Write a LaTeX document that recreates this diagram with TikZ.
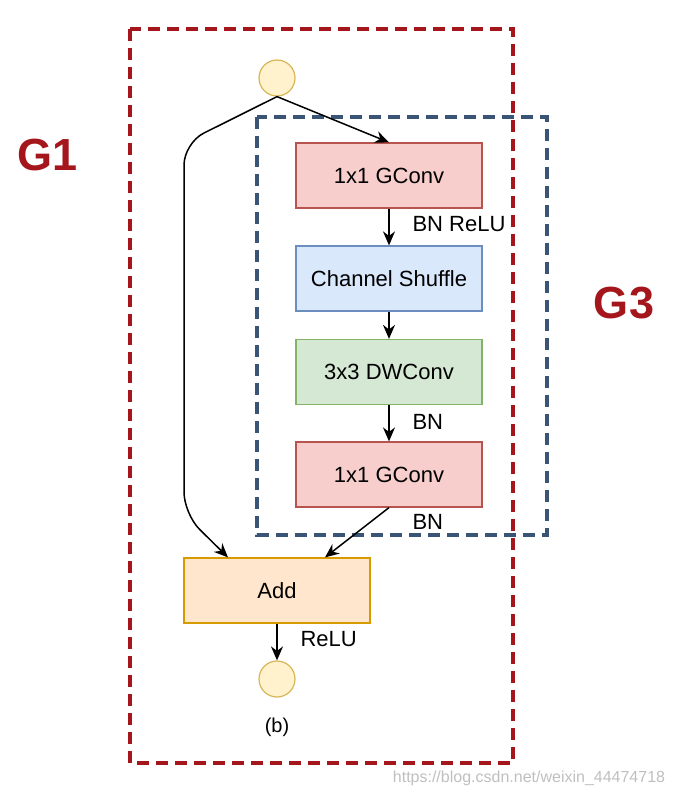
\documentclass[tikz,border=0pt]{standalone}
\usepackage{fontspec}
\setmainfont{Liberation Sans}
\usepackage{tikz}
\usetikzlibrary{arrows.meta}
\usetikzlibrary{positioning}

\definecolor{groupred}{RGB}{165,22,28}
\definecolor{groupblue}{RGB}{58,84,118}
\definecolor{convfill}{RGB}{248,206,204}
\definecolor{convdraw}{RGB}{184,84,80}
\definecolor{shufill}{RGB}{218,232,252}
\definecolor{shudraw}{RGB}{108,142,191}
\definecolor{dwfill}{RGB}{213,232,212}
\definecolor{dwdraw}{RGB}{130,179,102}
\definecolor{addfill}{RGB}{255,230,204}
\definecolor{adddraw}{RGB}{215,155,0}
\definecolor{iofill}{RGB}{255,242,204}
\definecolor{iodraw}{RGB}{214,182,86}

\begin{document}
\begin{tikzpicture}[x=1pt, y=-1pt,
	box/.style={rectangle, draw, line width=1.2pt, minimum width=186pt, minimum height=65pt,
	            font=\fontsize{22}{26}\selectfont},
	io/.style={circle, draw=iodraw, fill=iofill, line width=1.2pt, minimum size=36pt, inner sep=0pt},
	lbl/.style={anchor=west, font=\fontsize{22}{26}\selectfont},
	group/.style={line width=4pt, dash pattern=on 12pt off 7pt},
	glabel/.style={text=groupred, font=\fontsize{45}{54}\selectfont\bfseries}]
	\useasboundingbox (0,0) rectangle (672,797);

	% groups
	\draw[group, groupred] (130,29) rectangle (513,763);
	\draw[group, groupblue] (257,117) rectangle (547,535);
	\node[glabel] (g1) at (48,155) {G1};
	\node[glabel] (g3) at (624,303) {G3};

	\begin{scope}[every node/.style={box}]
		\node[fill=convfill, draw=convdraw] (gconv1) at (389,175.5) {1x1 GConv};
		\node[fill=shufill, draw=shudraw] (shuffle) at (389,278.5) {Channel Shuffle};
		\node[fill=dwfill, draw=dwdraw] (dwconv) at (389,372) {3x3 DWConv};
		\node[fill=convfill, draw=convdraw] (gconv2) at (389,474.5) {1x1 GConv};
		\node[fill=addfill, draw=adddraw] (add) at (277,590.5) {Add};
	\end{scope}
	\node[io] (in) at (277,78) {};
	\node[io] (out) at (277,679) {};
	\node[font=\fontsize{20}{24}\selectfont] (cap) at (277,727) {(b)};

	\begin{scope}[>={Stealth[length=14pt, width=12pt]}, line width=1.5pt]
		\draw[->] (in.south) -- (gconv1.north);
		\draw[->, rounded corners=22pt] (in.south) -- (184,143) -- (184,514) -- (add.north west -| 228,0);
		\draw[->] (gconv1) -- (shuffle);
		\draw[->] (shuffle) -- (dwconv);
		\draw[->] (dwconv) -- (gconv2);
		\draw[->] (gconv2.south) -- (add.north -| 325,0);
		\draw[->] (add) -- (out);
	\end{scope}

	\node[lbl] (l1) at (409,224) {BN ReLU};
	\node[lbl] (l2) at (409,422) {BN};
	\node[lbl] (l3) at (409,522) {BN};
	\node[lbl] (l4) at (297,639) {ReLU};
	\node[text=black!25, font=\fontsize{16}{19}\selectfont] (mark) at (529,778) {https://blog.csdn.net/weixin\_44474718};
\end{tikzpicture}
\end{document}
